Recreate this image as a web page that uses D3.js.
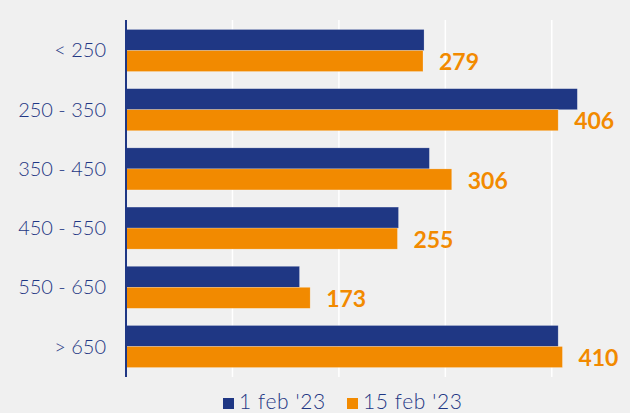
<!DOCTYPE html>
<html lang="en">
<head>
<meta charset="utf-8">
<script src="https://d3js.org/d3.v7.min.js"></script>
<style>
  body { margin: 0; background: #f0f0f0; }
  svg { display: block; }
</style>
</head>
<body>
<div id="container"></div>
<script>
var categories = ["< 250", "250 - 350", "350 - 450", "450 - 550", "550 - 650", "> 650"];
var seriesNames = ["1 feb '23", "15 feb '23"];
var feb1 = [280, 424, 285, 256, 163, 406];
var feb15 = [279, 406, 306, 255, 173, 410];
var xTicks = [100, 200, 300, 400];
var colors = ["#1f3784", "#f28a00"];

var W = 630, H = 413;
var x0 = 126, y0 = 20, y1 = 377;

var svg = d3.select("#container").append("svg")
    .attr("width", W).attr("height", H);

svg.append("rect").attr("width", W).attr("height", H).attr("fill", "#f0f0f0");

var x = d3.scaleLinear().domain([0, 450]).range([x0, x0 + 479]);
var y = d3.scaleBand().domain(categories).range([y0, y1])
    .paddingInner(0.29).paddingOuter(0.16);
var ys = d3.scaleBand().domain([0, 1]).range([0, y.bandwidth()]);

// gridlines
svg.append("g").selectAll("line").data(xTicks).enter().append("line")
    .attr("x1", function(d) { return x(d); })
    .attr("x2", function(d) { return x(d); })
    .attr("y1", y0).attr("y2", y1)
    .attr("stroke", "#ffffff").attr("stroke-width", 1.5);

var rows = categories.map(function(c, i) { return {cat: c, vals: [feb1[i], feb15[i]]}; });

var g = svg.append("g").selectAll("g").data(rows).enter().append("g")
    .attr("transform", function(d) { return "translate(0," + y(d.cat) + ")"; });

g.selectAll("rect").data(function(d) { return d.vals; }).enter().append("rect")
    .attr("x", x(0))
    .attr("y", function(d, i) { return ys(i); })
    .attr("width", function(d) { return x(d) - x(0); })
    .attr("height", ys.bandwidth())
    .attr("fill", function(d, i) { return colors[i]; })
    .attr("stroke", "#ffffff").attr("stroke-opacity", 0.35).attr("stroke-width", 0.6);

g.append("text")
    .attr("x", function(d) { return x(d.vals[1]) + 16; })
    .attr("y", ys(1) + ys.bandwidth() / 2 + 1)
    .attr("dy", "0.36em")
    .attr("fill", colors[1])
    .style("font-family", "Lato, sans-serif")
    .style("font-weight", "bold")
    .style("font-size", "23px")
    .text(function(d) { return d.vals[1]; });

// category labels
svg.append("g").selectAll("text").data(categories).enter().append("text")
    .attr("x", x0 - 20)
    .attr("y", function(d) { return y(d) + y.bandwidth() / 2; })
    .attr("dy", "0.35em")
    .attr("text-anchor", "end")
    .attr("fill", "#1f3784")
    .style("font-family", "Lato, sans-serif")
    .style("font-weight", "300")
    .style("font-size", "20px")
    .text(function(d) { return d; });

// axis line
svg.append("line").attr("x1", x0).attr("x2", x0).attr("y1", y0).attr("y2", y1)
    .attr("stroke", "#1f3784").attr("stroke-width", 2);

// legend
var legendX = [223, 347];
var lg = svg.append("g").selectAll("g").data(seriesNames).enter().append("g")
    .attr("transform", function(d, i) { return "translate(" + legendX[i] + ",398)"; });
lg.append("rect").attr("width", 11).attr("height", 11)
    .attr("fill", function(d, i) { return colors[i]; });
lg.append("text").attr("x", 16).attr("y", 11)
    .attr("fill", "#1f3784")
    .style("font-family", "Lato, sans-serif")
    .style("font-weight", "300")
    .style("font-size", "21px")
    .style("letter-spacing", "0.6px")
    .text(function(d) { return d; });
</script>
</body>
</html>
